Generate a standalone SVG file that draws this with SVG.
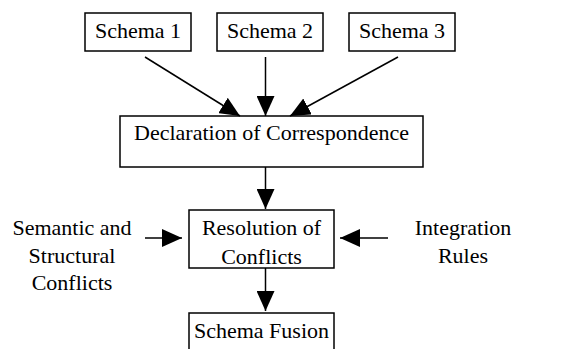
<svg xmlns="http://www.w3.org/2000/svg" width="563" height="349" viewBox="0 0 563 349">
<style>
.n rect{fill:#fff;stroke:#000;stroke-width:1.5}
text{font-family:"Liberation Serif","Times New Roman",serif;font-size:22px;fill:#000;text-anchor:middle}
.c line{stroke:#000;stroke-width:1.5}
</style>
<defs>
<marker id="ah" viewBox="0 0 20 18" refX="20" refY="9" markerWidth="20" markerHeight="18" markerUnits="userSpaceOnUse" orient="auto">
<path d="M0,0L20,9L0,18Z" fill="#000"/>
</marker>
</defs>
<rect width="563" height="349" fill="#fff"/>
<g class="n" id="schema1"><rect x="85" y="13" width="106" height="38"/><text x="138" y="38">Schema 1</text></g>
<g class="n" id="schema2"><rect x="217" y="13" width="106" height="38"/><text x="270" y="38">Schema 2</text></g>
<g class="n" id="schema3"><rect x="349" y="13" width="106" height="38"/><text x="402" y="38">Schema 3</text></g>
<g class="n" id="declaration"><rect x="120" y="116" width="303" height="51"/><text x="271.5" y="140">Declaration of Correspondence</text></g>
<g class="n" id="resolution"><rect x="189" y="210" width="145" height="58"/><text x="261.5" y="235">Resolution of</text><text x="261.5" y="264">Conflicts</text></g>
<g class="n" id="fusion"><rect x="189" y="313" width="145" height="50"/><text x="261.5" y="338">Schema Fusion</text></g>
<g id="semantic"><text x="72" y="235">Semantic and</text><text x="72" y="263">Structural</text><text x="72" y="290">Conflicts</text></g>
<g id="rules"><text x="463" y="235">Integration</text><text x="463" y="263">Rules</text></g>
<g class="c" id="connectors">
<line x1="145" y1="57" x2="240" y2="116" marker-end="url(#ah)"/>
<line x1="265.5" y1="57" x2="265.5" y2="116" marker-end="url(#ah)"/>
<line x1="398" y1="57" x2="290" y2="116" marker-end="url(#ah)"/>
<line x1="265.5" y1="167" x2="265.5" y2="209" marker-end="url(#ah)"/>
<line x1="145" y1="238" x2="182" y2="238" marker-end="url(#ah)"/>
<line x1="388" y1="238" x2="340" y2="238" marker-end="url(#ah)"/>
<line x1="265.5" y1="268" x2="265.5" y2="311" marker-end="url(#ah)"/>
</g>
</svg>
